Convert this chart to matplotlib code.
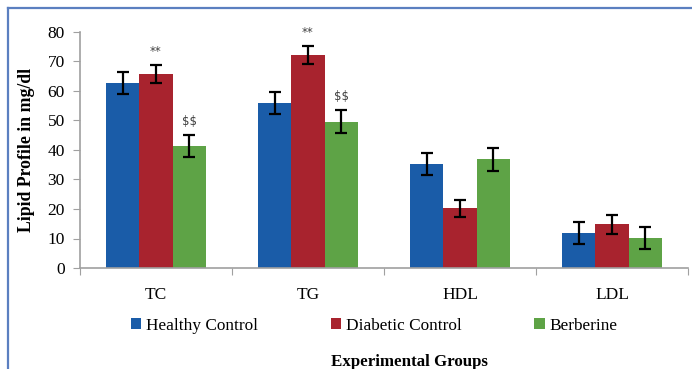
import numpy as np
import matplotlib
matplotlib.use("Agg")
import matplotlib.pyplot as plt
from matplotlib.lines import Line2D

plt.rcParams['font.family'] = ['Liberation Serif', 'DejaVu Serif']

# lipid profile values (mg/dl) with SE
categories = ["TC", "TG", "HDL", "LDL"]
groups = ["Healthy Control", "Diabetic Control", "Berberine"]
healthy = [62.7, 55.9, 35.3, 11.8]
diabetic = [65.8, 72.2, 20.2, 14.8]
berberine = [41.3, 49.6, 36.9, 10.3]
healthy_err = [3.7, 3.6, 3.7, 3.7]
diabetic_err = [3.1, 3.2, 2.9, 3.2]
berberine_err = [3.7, 3.9, 3.9, 3.7]
# significance marks: (category index, group index, label)
marks = [(0, 1, "**"), (0, 2, "$$"), (1, 1, "**"), (1, 2, "$$")]

colors = ["#1A5CA8", "#A8232E", "#5EA346"]
values = [healthy, diabetic, berberine]
errors = [healthy_err, diabetic_err, berberine_err]

fig = plt.figure(figsize=(6.92, 3.69), dpi=100)
ax = fig.add_axes([80 / 692, 1 - 268 / 369, 608 / 692, 236 / 369])

x = np.arange(len(categories))
width = 0.22
for i, (vals, errs, c, name) in enumerate(zip(values, errors, colors, groups)):
    ax.bar(x + (i - 1) * width, vals, width, color=c, label=name,
           yerr=errs, capsize=4,
           error_kw=dict(ecolor="black", elinewidth=1.6, capthick=1.6))

for ci, gi, lab in marks:
    top = values[gi][ci] + errors[gi][ci]
    ax.text(x[ci] + (gi - 1) * width, top + 4.5, lab, ha="center", va="center",
            fontsize=8.5, color="#404040", family="DejaVu Sans", parse_math=False)

ax.set_xlim(-0.5, len(categories) - 0.5)
ax.set_ylim(0, 80)
ax.set_yticks(range(0, 81, 10))
ax.set_xticks(np.arange(-0.5, len(categories), 1.0))
ax.set_xticklabels([])
ax.set_xticks(x, minor=True)
ax.set_xticklabels(categories, minor=True)
ax.tick_params(axis="x", which="minor", length=0, pad=14, labelsize=12.5)
ax.tick_params(axis="x", which="major", length=5, color="#A0A0A0")
ax.tick_params(axis="y", length=5, color="#A0A0A0", labelsize=12.5, pad=6)
for s in ["top", "right"]:
    ax.spines[s].set_visible(False)
for s in ["left", "bottom"]:
    ax.spines[s].set_color("#A0A0A0")
    ax.spines[s].set_linewidth(1.2)

fig.legend(loc="center left", bbox_to_anchor=(131 / 692, 1 - 326 / 369), ncol=3,
           frameon=False, prop={"family": "Liberation Serif", "size": 12.4},
           handlelength=0.6, handleheight=0.6, handletextpad=0.3,
           columnspacing=4.2, borderaxespad=0, borderpad=0)

fig.text(409 / 692, 1 - 362 / 369, "Experimental Groups", ha="center", va="center",
         fontsize=12.2, fontweight="bold")
fig.text(27 / 692, 1 - 150 / 369, "Lipid Profile in mg/dl", ha="center", va="center",
         rotation=90, fontsize=12.8, fontweight="bold")

# frame lines along the top and left edges
fig.add_artist(Line2D([8 / 692, 1], [1 - 8 / 369, 1 - 8 / 369], transform=fig.transFigure,
                      color="#5B7FC0", linewidth=1.6))
fig.add_artist(Line2D([8 / 692, 8 / 692], [0, 1 - 8 / 369], transform=fig.transFigure,
                      color="#5B7FC0", linewidth=1.6))

fig.savefig("out.png", dpi=100)
